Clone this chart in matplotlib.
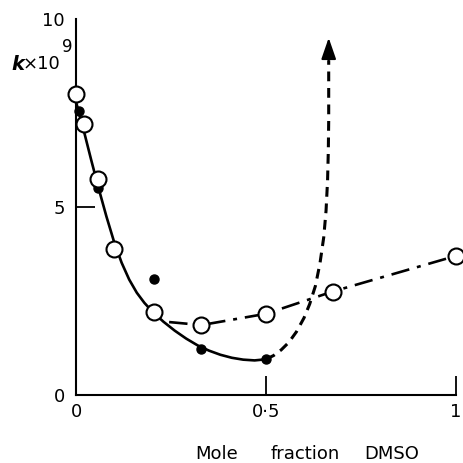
import matplotlib
matplotlib.use("Agg")
import matplotlib.pyplot as plt

# open circles
open_x = [0.0, 0.02, 0.057, 0.10, 0.206, 0.33, 0.50, 0.675, 1.0]
open_y = [8.0, 7.2, 5.75, 3.88, 2.2, 1.86, 2.16, 2.75, 3.7]
# filled dots
fill_x = [0.008, 0.058, 0.205, 0.33, 0.50]
fill_y = [7.55, 5.5, 3.08, 1.22, 0.95]
# solid curve (read points)
solid_x = [0.0, 0.02, 0.04, 0.06, 0.08, 0.10, 0.12, 0.14, 0.16, 0.18, 0.20,
           0.23, 0.26, 0.29, 0.32, 0.35, 0.38, 0.41, 0.44, 0.47, 0.50]
solid_y = [7.8, 7.05, 6.25, 5.48, 4.75, 4.08, 3.52, 3.07, 2.72, 2.45, 2.23,
           1.95, 1.71, 1.50, 1.32, 1.18, 1.07, 0.99, 0.94, 0.92, 0.95]
# dashed curve (read points)
dash_x = [0.50, 0.52, 0.54, 0.56, 0.58, 0.60, 0.615, 0.63, 0.642, 0.652,
          0.658, 0.662, 0.664, 0.665, 0.665]
dash_y = [0.95, 1.05, 1.2, 1.4, 1.68, 2.05, 2.42, 2.9, 3.5, 4.2,
          4.9, 5.7, 6.5, 7.3, 8.9]
arrow_tip = (0.665, 9.5)
# dash-dot line
dd_x = [0.245, 0.33, 0.50, 0.675, 1.0]
dd_y = [1.94, 1.86, 2.16, 2.75, 3.7]

xticks = [0, 0.5, 1]
xticklabels = ["0", "0·5", "1"]
yticks = [0, 5, 10]
yticklabels = ["0", "5", "10"]
xlabel_words = ["Mole", "fraction", "DMSO"]

fig = plt.figure(figsize=(4.63, 4.63), dpi=100)
ax = fig.add_axes([76/463, 68/463, 380/463, 376/463])
ax.set_xlim(0, 1)
ax.set_ylim(0, 10)

lw = 1.9
ax.plot(solid_x, solid_y, color="black", lw=lw, solid_joinstyle="round", zorder=2)
ax.plot(dash_x, dash_y, color="black", lw=2.2, dashes=(3.2, 2.2), zorder=2)
ax.annotate("", xy=arrow_tip, xytext=(dash_x[-1], dash_y[-1]),
            arrowprops=dict(arrowstyle="-|>,head_length=1.3,head_width=0.45",
                            color="black", lw=1.5, shrinkA=0, shrinkB=0))
ax.plot(dd_x, dd_y, color="black", lw=lw, dashes=(7, 3, 1.5, 3), zorder=2)

ax.plot(fill_x, fill_y, "o", color="black", ms=6.5, zorder=3, clip_on=False)
ax.plot(open_x, open_y, "o", mfc="white", mec="black", mew=1.5, ms=11.5,
        zorder=4, clip_on=False)

for s in ["top", "right"]:
    ax.spines[s].set_visible(False)
for s in ["left", "bottom"]:
    ax.spines[s].set_linewidth(1.5)

ax.xaxis.remove_overlapping_locs = False
ax.yaxis.remove_overlapping_locs = False
ax.set_xticks(xticks)
ax.set_xticklabels(xticklabels)
ax.set_yticks(yticks)
ax.set_yticklabels(yticklabels)
ax.tick_params(which="major", length=0, labelsize=13, pad=6)
ax.tick_params(axis="y", which="major", pad=8)
ax.set_xticks([0.5, 1.0], minor=True)
ax.set_yticks([5], minor=True)
ax.tick_params(which="minor", direction="in", length=14, width=1.3)

def px(x, y):
    return x / 463, 1 - y / 463

fig.text(*px(11, 64), "k", fontsize=14, fontstyle="italic", fontweight="bold",
         ha="left", va="center")
fig.text(*px(23, 64), "×10", fontsize=13, ha="left", va="center")
fig.text(*px(62, 47), "9", fontsize=12, ha="left", va="center")

for word, cx in zip(xlabel_words, [217, 305, 392]):
    fig.text(*px(cx, 454), word, fontsize=13, ha="center", va="center")

fig.savefig("out.png", dpi=100)
